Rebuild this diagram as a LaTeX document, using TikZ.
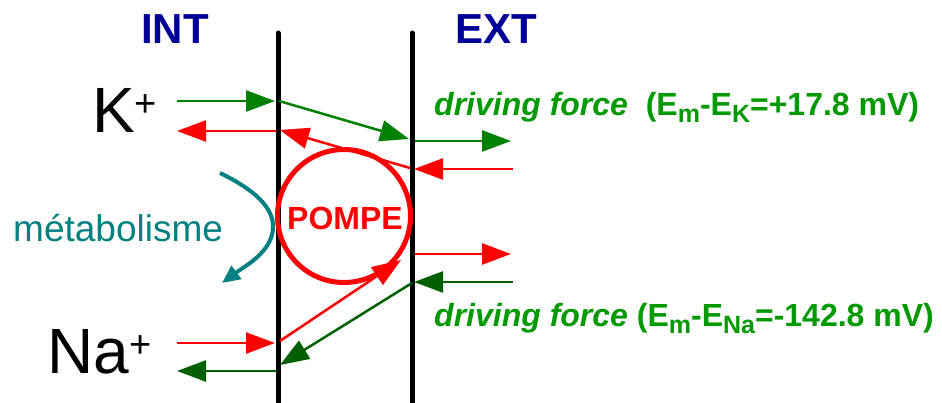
\documentclass[tikz,border=0pt]{standalone}
\usepackage{fontspec}
\setmainfont{Liberation Sans}
\usetikzlibrary{arrows.meta}
\definecolor{navyint}{RGB}{0,0,153}
\definecolor{kgreen}{RGB}{0,128,0}
\definecolor{dgreen}{RGB}{0,96,0}
\definecolor{tgreen}{RGB}{0,153,0}
\definecolor{teal2}{RGB}{0,128,128}
\newcommand{\sbx}[1]{\raisebox{-7pt}{\fontsize{25}{25}\selectfont #1}}
\begin{document}
\begin{tikzpicture}[x=1pt,y=-1pt,
  membrane/.style={line width=5pt,line cap=round},
  flux/.style={line width=2.5pt,-{Triangle[length=29pt,width=21pt]}},
  lbl/.style={inner sep=0pt,anchor=base west},
  side/.style={inner sep=0pt,anchor=base,font=\bfseries\fontsize{42}{42}\selectfont,text=navyint},
  dftext/.style={inner sep=0pt,anchor=base west,text=tgreen,font=\bfseries\fontsize{32}{32}\selectfont}]
\useasboundingbox (0,0) rectangle (942,403);
% membranes
\coordinate (Lt) at (278,33); \coordinate (Lb) at (278,410);
\coordinate (Rt) at (412,33); \coordinate (Rb) at (412,410);
\draw[membrane] (Lt) -- (Lb);
\draw[membrane] (Rt) -- (Rb);
% labels
\node[side] (int) at (175,44) {INT};
\node[side] (ext) at (496,44) {EXT};
\node[lbl,font=\fontsize{64}{64}\selectfont] (k) at (92,133) {K\raisebox{16pt}{\fontsize{38}{38}\selectfont +}};
\node[lbl,font=\fontsize{64}{64}\selectfont] (na) at (47,373) {Na\raisebox{16pt}{\fontsize{38}{38}\selectfont +}};
\node[lbl,text=teal2,font=\fontsize{37}{37}\selectfont] (met) at (13,242) {métabolisme};
% pump
\node[draw=red,line width=5pt,circle,minimum size=133pt,inner sep=0pt] (pump) at (344,216) {};
\node[inner sep=0pt,anchor=base,text=red,font=\bfseries\fontsize{32}{32}\selectfont] (pompe) at (345,230) {POMPE};
% driving force
\node[dftext] (df1) at (434,116) {\textit{driving force}\ \ (E\sbx{m}-E\sbx{K}=+17.8 mV)};
\node[dftext] (df2) at (434,326) {\textit{driving force} (E\sbx{m}-E\sbx{Na}=-142.8 mV)};
% coordinates
\coordinate (k1) at (177,101); \coordinate (k2) at (275,101);
\coordinate (k3) at (279,101); \coordinate (k4) at (409,139);
\coordinate (k5) at (415,141); \coordinate (k6) at (511,141);
\coordinate (r1) at (513,169); \coordinate (r2) at (414,169);
\coordinate (r3) at (410,168); \coordinate (r4) at (280,130);
\coordinate (r5) at (276,131); \coordinate (r6) at (177,131);
\coordinate (n1) at (177,343); \coordinate (n2) at (275,343);
\coordinate (n3) at (280,341); \coordinate (n4) at (401,260);
\coordinate (n5) at (415,254); \coordinate (n6) at (511,254);
\coordinate (g1) at (513,282); \coordinate (g2) at (414,282);
\coordinate (g3) at (412,283); \coordinate (g4) at (280,365);
\coordinate (g5) at (276,371); \coordinate (g6) at (177,371);
% K arrows
\draw[flux,kgreen] (k1) -- (k2);
\draw[flux,kgreen] (k3) -- (k4);
\draw[flux,kgreen] (k5) -- (k6);
\draw[flux,red] (r1) -- (r2);
\draw[flux,red] (r3) -- (r4);
\draw[flux,red] (r5) -- (r6);
% Na arrows
\draw[flux,red] (n1) -- (n2);
\draw[flux,red] (n3) -- (n4);
\draw[flux,red] (n5) -- (n6);
\draw[flux,dgreen] (g1) -- (g2);
\draw[flux,dgreen] (g3) -- (g4);
\draw[flux,dgreen] (g5) -- (g6);
% metabolism
\coordinate (m1) at (220,173); \coordinate (m2) at (273,228); \coordinate (m3) at (222,283);
\draw[teal2,line width=4pt,-{Triangle[length=18pt,width=16pt]}] (m1) .. controls (255,190) and (274,208) .. (m2) .. controls (272,252) and (245,266) .. (m3);
\end{tikzpicture}
\end{document}
